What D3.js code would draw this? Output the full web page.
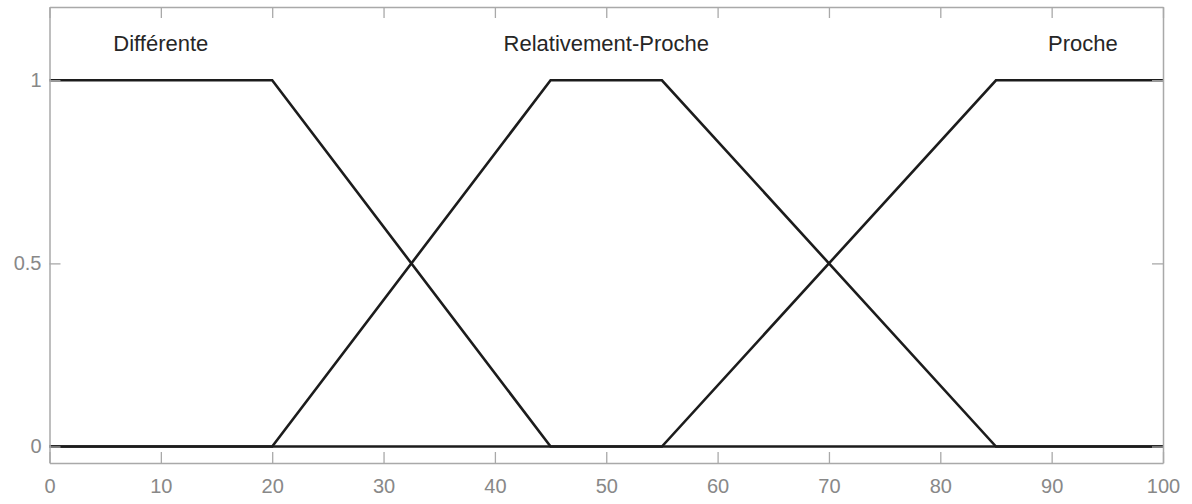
<!DOCTYPE html>
<html>
<head>
<meta charset="utf-8">
<script src="https://cdn.jsdelivr.net/npm/d3@7"></script>
<style>
  html, body { margin: 0; padding: 0; background: #fff; }
  svg { display: block; }
</style>
</head>
<body>
<svg id="chart" width="1192" height="504"></svg>
<script>
// ---- data ----
const seriesNames = ["Différente", "Relativement-Proche", "Proche"];
const differenteX = [0, 20, 45, 100];
const differenteY = [1, 1, 0, 0];
const relProcheX = [0, 20, 45, 55, 85, 100];
const relProcheY = [0, 0, 1, 1, 0, 0];
const procheX = [0, 55, 85, 100];
const procheY = [0, 0, 1, 1];
const labelX = [10, 50, 92.8];
const labelY = [1.08, 1.08, 1.08];
const xTicks = [0, 10, 20, 30, 40, 50, 60, 70, 80, 90, 100];
const yTicks = [0, 0.5, 1];
const yTickLabels = ["0", "0.5", "1"];

// ---- layout ----
const svg = d3.select("#chart");
const mLeft = 49.5, mRight = 1163, mTop = 7, mBottom = 463;
const x = d3.scaleLinear().domain([0, 100]).range([mLeft, mRight]);
const y = d3.scaleLinear().domain([-0.045, 1.2]).range([mBottom, mTop]);

const axisColor = "#a9a9a9";
const tickLabelColor = "#888888";
const tickLen = 11;

const series = [
  d3.zip(differenteX, differenteY),
  d3.zip(relProcheX, relProcheY),
  d3.zip(procheX, procheY)
];

const line = d3.line().x(d => x(d[0])).y(d => y(d[1]));

// MF lines
svg.append("g").selectAll("path").data(series).join("path")
  .attr("d", line)
  .attr("fill", "none")
  .attr("stroke", "#1c1c1c")
  .attr("stroke-width", 2.6)
  .attr("stroke-linejoin", "miter");

// axes (box with inward ticks)
const axisStyle = g => {
  g.select(".domain").attr("stroke", axisColor).attr("stroke-width", 1.5);
  g.selectAll(".tick line").attr("stroke", axisColor).attr("stroke-width", 1.3);
  g.selectAll(".tick text").attr("fill", tickLabelColor)
    .attr("font-family", "Liberation Sans, Arial, sans-serif").attr("font-size", 20);
};

svg.append("g").attr("transform", `translate(0,${mBottom})`)
  .call(d3.axisBottom(x).tickValues(xTicks).tickFormat(d3.format("d"))
    .tickSizeInner(-tickLen).tickSizeOuter(0).tickPadding(16))
  .call(axisStyle);

svg.append("g").attr("transform", `translate(0,${mTop})`)
  .call(d3.axisTop(x).tickValues(xTicks).tickFormat("")
    .tickSizeInner(-tickLen).tickSizeOuter(0))
  .call(axisStyle);

svg.append("g").attr("transform", `translate(${mLeft},0)`)
  .call(d3.axisLeft(y).tickValues(yTicks).tickFormat((d, i) => yTickLabels[i])
    .tickSizeInner(-tickLen).tickSizeOuter(0).tickPadding(8))
  .call(axisStyle);

svg.append("g").attr("transform", `translate(${mRight},0)`)
  .call(d3.axisRight(y).tickValues(yTicks).tickFormat("")
    .tickSizeInner(-tickLen).tickSizeOuter(0))
  .call(axisStyle);

// MF labels
svg.append("g").selectAll("text").data(seriesNames).join("text")
  .attr("x", (d, i) => x(labelX[i]))
  .attr("y", (d, i) => y(labelY[i]))
  .attr("text-anchor", "middle")
  .attr("font-family", "Liberation Sans, Arial, sans-serif")
  .attr("font-size", 22)
  .attr("fill", "#262626")
  .text(d => d);
</script>
</body>
</html>
